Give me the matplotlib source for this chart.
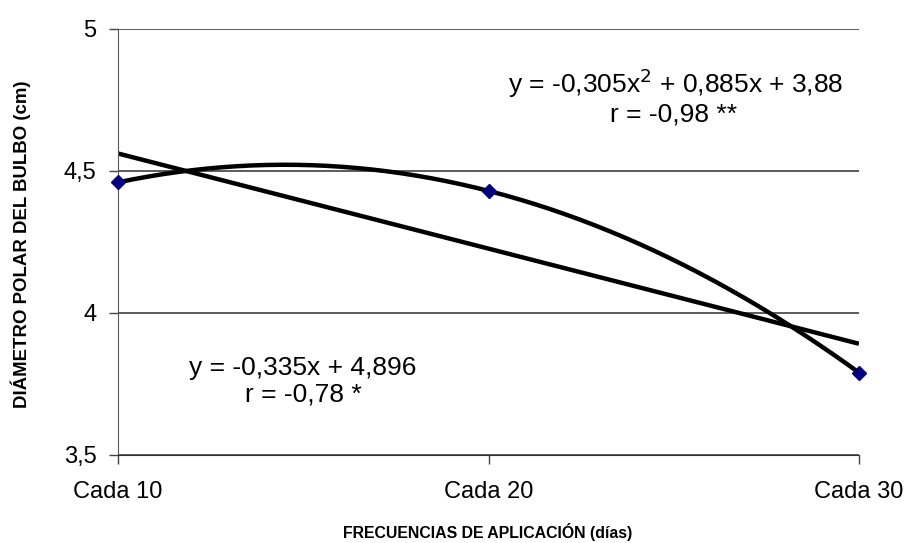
import numpy as np
import matplotlib.pyplot as plt

plt.rcParams['font.family'] = ['Liberation Sans', 'DejaVu Sans']

# datos
categorias = ['Cada 10', 'Cada 20', 'Cada 30']
x = np.array([1, 2, 3])
diametro = np.array([4.46, 4.43, 3.79])

# ajustes de tendencia (lineal y cuadratico)
p1 = np.polyfit(x, diametro, 1)
p2 = np.polyfit(x, diametro, 2)
xs = np.linspace(1, 3, 200)

fig = plt.figure(figsize=(9.07, 5.43), dpi=100)
ax = fig.add_axes([118 / 907, 88 / 543, 741 / 907, 426 / 543])

ax.plot(xs, np.polyval(p1, xs), color='black', lw=3.2, solid_capstyle='butt')
ax.plot(xs, np.polyval(p2, xs), color='black', lw=3.2, solid_capstyle='butt')
ax.plot(x, diametro, linestyle='none', marker='D', ms=7.5, color='#000080', zorder=5,
        clip_on=False)

ax.set_xlim(1, 3)
ax.set_ylim(3.5, 5)
ax.set_yticks([3.5, 4, 4.5, 5])
ax.set_yticklabels(['3,5', '4', '4,5', '5'])
ax.set_xticks(x)
ax.set_xticklabels(categorias)
ax.yaxis.grid(True, color='#404040', lw=1.2)
ax.set_axisbelow(True)

for s in ['top', 'right']:
    ax.spines[s].set_visible(False)
ax.spines['left'].set_color('#555555')
ax.spines['bottom'].set_color('#333333')
ax.tick_params(axis='both', labelsize=17, length=6.5, width=1, color='#444444')
ax.tick_params(axis='y', pad=9)
ax.tick_params(axis='x', pad=12)

fig.text(21 / 907, 1 - 244 / 543, 'DIÁMETRO POLAR DEL BULBO (cm)', rotation=90,
         fontsize=13.4, fontweight='bold', ha='center', va='center')
fig.text(488 / 907, 1 - 532 / 543, 'FRECUENCIAS DE APLICACIÓN (días)',
         fontsize=11.4, fontweight='bold', ha='center', va='center')

ax.text(2.505, 4.81, 'y = -0,305x$^{2}$ + 0,885x + 3,88', fontsize=19, ha='center', va='center')
ax.text(2.5, 4.70, 'r = -0,98 **', fontsize=19, ha='center', va='center')
ax.text(1.499, 3.806, 'y = -0,335x + 4,896', fontsize=19, ha='center', va='center')
ax.text(1.499, 3.712, 'r = -0,78 *', fontsize=19, ha='center', va='center')

fig.savefig('out.png', dpi=100)
